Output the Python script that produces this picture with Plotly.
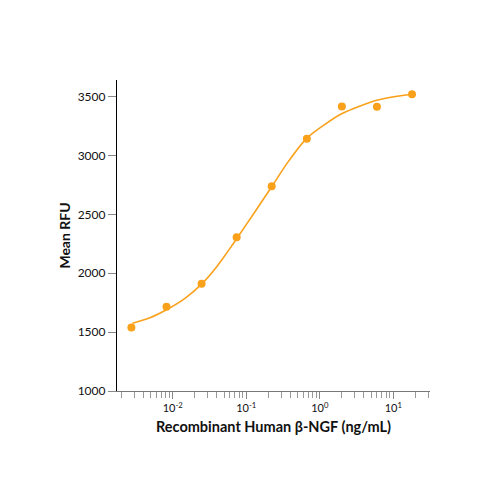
import plotly.graph_objects as go

# Measured data points
conc = [0.00274, 0.00823, 0.0247, 0.0741, 0.222, 0.667, 2.0, 6.0, 18.0]
rfu = [1540, 1716, 1910, 2305, 2738, 3142, 3415, 3412, 3518]

# Fitted curve
curve_x = [0.00283, 0.00491, 0.00845, 0.01469, 0.0253, 0.0397, 0.0601, 0.0765,
           0.1315, 0.222, 0.373, 0.664, 1.18, 2.05, 6.14, 18.2]
curve_y = [1575, 1622, 1694, 1787, 1914, 2055, 2211, 2305,
           2522, 2734, 2947, 3145, 3264, 3357, 3470, 3519]

x_tickvals = [0.01, 0.1, 1, 10]
x_ticktext = ["10<sup>-2</sup>", "10<sup>-1</sup>", "10<sup>0</sup>", "10<sup>1</sup>"]
y_tickvals = [1000, 1500, 2000, 2500, 3000, 3500]

FONT = "Lato, Roboto, sans-serif"
ORANGE = "#F9A11B"

fig = go.Figure()
fig.add_trace(go.Scatter(x=curve_x, y=curve_y, mode="lines",
                         line=dict(color=ORANGE, width=1.6, shape="spline", smoothing=0.8),
                         hoverinfo="skip"))
fig.add_trace(go.Scatter(x=conc, y=rfu, mode="markers",
                         marker=dict(color=ORANGE, size=8)))

fig.update_layout(
    width=500, height=500,
    margin=dict(l=109, r=78, t=72, b=117),
    paper_bgcolor="white", plot_bgcolor="white",
    showlegend=False,
    font=dict(family=FONT, color="#111", size=12),
)
fig.update_xaxes(
    type="log", range=[-2.758, 1.5],
    tickvals=x_tickvals, ticktext=x_ticktext,
    ticks="outside", ticklen=7, tickcolor="#888", tickwidth=1,
    minor=dict(ticks="outside", ticklen=6, tickcolor="#999", dtick="D1", showgrid=False),
    showline=True, linecolor="#777", linewidth=1.2,
    showgrid=False, zeroline=False,
    tickfont=dict(size=11, family=FONT),
    title=dict(text="<b>Recombinant Human β-NGF (ng/mL)</b>", font=dict(size=14.5, family=FONT), standoff=8),
)
fig.update_yaxes(
    range=[1000, 3640],
    tickvals=y_tickvals,
    ticks="outside", ticklen=8, tickcolor="#888", tickwidth=1,
    showline=True, linecolor="black", linewidth=1.2,
    showgrid=False, zeroline=False,
    tickfont=dict(size=12, family=FONT),
    title=dict(text="<b>Mean RFU</b>", font=dict(size=14, family=FONT), standoff=3),
)

fig.write_html("out.html")
